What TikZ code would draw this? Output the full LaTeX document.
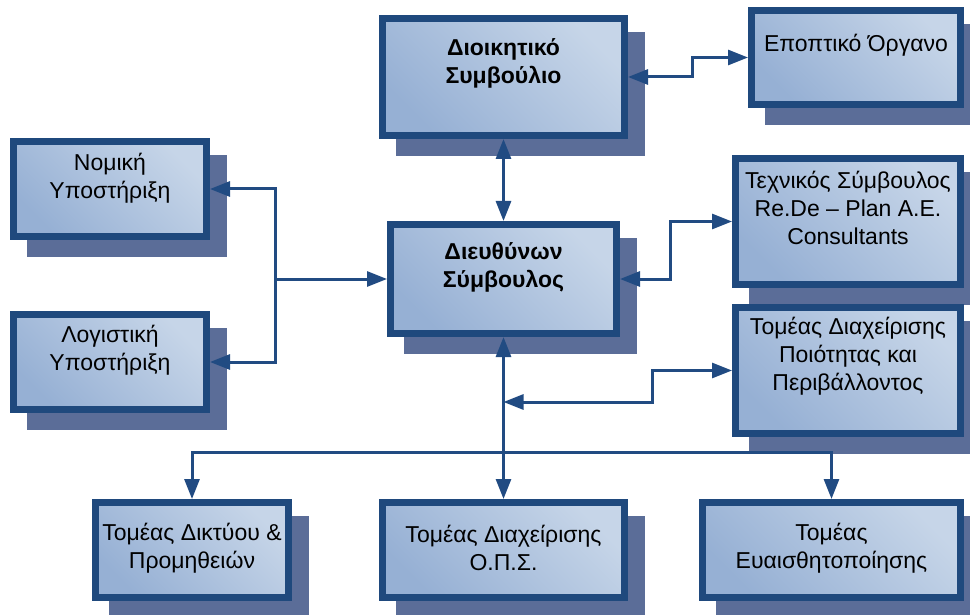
\documentclass[tikz,border=0pt]{standalone}
\usepackage{fontspec}
\setmainfont{Liberation Sans}
\usetikzlibrary{arrows.meta,shadows,calc}

\definecolor{boxline}{RGB}{31,73,125}
\definecolor{boxlight}{RGB}{198,213,232}
\definecolor{boxdark}{RGB}{150,176,212}
\definecolor{shadowblue}{RGB}{91,109,152}
\definecolor{linkblue}{RGB}{33,75,130}

\begin{document}
\begin{tikzpicture}[
x=1pt,y=-1pt,
>={Triangle[length=20pt,width=15pt]},
box/.style={
rectangle,
inner sep=0pt,
line width=7pt,
draw=boxline,
top color=boxlight,
bottom color=boxdark,
shading angle=-45,
general shadow={fill=shadowblue,draw=shadowblue,line width=7pt,shadow xshift=17pt,shadow yshift=-17pt}
},
txt/.style={
align=center,
inner sep=0pt,
font=\fontsize{23}{28}\selectfont
},
link/.style={
draw=linkblue,
line width=3pt
}]

\useasboundingbox (0,0) rectangle (970,615);

% boxes
\node[box,minimum width=242pt,minimum height=117pt] (dioik) at (503.5,77) {};
\node[box,minimum width=209pt,minimum height=94pt] (epopt) at (856,57.5) {};
\node[box,minimum width=225pt,minimum height=126pt] (techn) at (848,221.5) {};
\node[box,minimum width=225pt,minimum height=126pt] (poiot) at (848,370.5) {};
\node[box,minimum width=193pt,minimum height=95pt] (nomik) at (110,189) {};
\node[box,minimum width=193pt,minimum height=95pt] (logist) at (110,362) {};
\node[box,minimum width=226pt,minimum height=109pt] (dieuth) at (503.5,279) {};
\node[box,minimum width=193pt,minimum height=95pt] (diktyo) at (192,550) {};
\node[box,minimum width=242pt,minimum height=95pt] (ops) at (503.5,550) {};
\node[box,minimum width=258pt,minimum height=95pt] (euais) at (831.5,550) {};

% texts
\node[txt,font=\fontsize{23}{28}\selectfont\bfseries] (dioik-t) at ([yshift=14pt]dioik.center) {Διοικητικό\\Συμβούλιο};
\node[txt] (epopt-t) at ([yshift=12.5pt]epopt.center) {Εποπτικό Όργανο};
\node[txt] (techn-t) at ([yshift=13.5pt]techn.center) {Τεχνικός Σύμβουλος\\Re.De – Plan A.E.\\Consultants};
\node[txt] (poiot-t) at ([yshift=14.5pt]poiot.center) {Τομέας Διαχείρισης\\Ποιότητας και\\Περιβάλλοντος};
\node[txt] (nomik-t) at ([yshift=10.5pt]nomik.center) {Νομική\\Υποστήριξη};
\node[txt] (logist-t) at ([yshift=11.5pt]logist.center) {Λογιστική\\Υποστήριξη};
\node[txt,font=\fontsize{23}{28}\selectfont\bfseries] (dieuth-t) at ([yshift=12pt]dieuth.center) {Διευθύνων\\Σύμβουλος};
\node[txt] (diktyo-t) at ([yshift=2pt]diktyo.center) {Τομέας Δικτύου \&\\Προμηθειών};
\node[txt] (ops-t) at ([yshift=2pt]ops.center) {Τομέας Διαχείρισης\\Ο.Π.Σ.};
\node[txt] (euais-t) at ([yshift=2pt]euais.center) {Τομέας\\Ευαισθητοποίησης};

% junctions
\coordinate (ljoin) at ([xshift=-112pt]dieuth.west);
\coordinate (qjoin) at (dieuth.south |- 0,402);
\coordinate (bus) at (dieuth.south |- 0,452);

% connectors
\draw[link,<->] (dioik.south) -- (dieuth.north);
\draw[link,<->] (dioik.east) -- ++(64,0) |- (epopt.west);
\draw[link,<->] (dieuth.east) -- ++(50,0) |- (techn.west);
\draw[link,<->] (poiot.west) -- ++(-80,0) |- (qjoin);
\draw[link,->] (ljoin) |- (nomik.east);
\draw[link,->] (ljoin) |- (logist.east);
\draw[link,->] (ljoin) -- (dieuth.west);
\draw[link,<->] (dieuth.south) -- (ops.north);
\draw[link,->] (bus) -| (diktyo.north);
\draw[link,->] (bus) -| (euais.north);

\end{tikzpicture}
\end{document}
